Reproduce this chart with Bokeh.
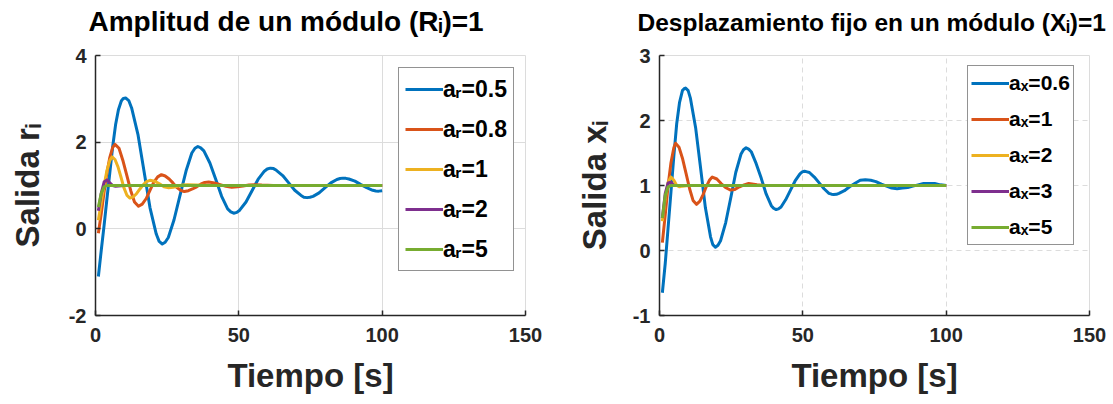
from bokeh.plotting import figure
from bokeh.layouts import row
from bokeh.models import Range1d, FixedTicker, Title
from bokeh.embed import file_html
from bokeh.resources import INLINE

# ---------------- data ----------------
x_ticks = [0, 50, 100, 150]
left_y_ticks = [-2, 0, 2, 4]
right_y_ticks = [-1, 0, 1, 2, 3]

left_labels = ["aᵣ=0.5", "aᵣ=0.8", "aᵣ=1", "aᵣ=2", "aᵣ=5"]
right_labels = ["aₓ=0.6", "aₓ=1", "aₓ=2", "aₓ=3", "aₓ=5"]

# Left panel: a_r = 0.5
t_r05 = [1, 2, 3, 4, 5, 6, 7, 8, 9, 9.7, 10.5, 11.6, 12.6, 14.8, 16.9, 19.0, 21.2, 22.2, 23.3, 24.3, 25.4,
         27.4, 29.5, 31.6, 33.6, 34.7, 35.7, 36.7, 37.8, 39.9, 42.0, 44.0, 46.1, 47.2, 48.2, 49.3, 50.3,
         52.5, 54.6, 56.7, 58.9, 59.9, 61.0, 62.1, 63.1, 65.3, 67.4, 69.5, 71.7, 72.7, 73.8, 74.8, 75.9,
         78.0, 80.1, 82.1, 84.2, 85.3, 86.3, 87.3, 88.4, 90.5, 92.6, 94.6, 96.7, 97.8, 98.8, 100]
y_r05 = [-1.1, -0.5, 0.08, 0.7, 1.3, 1.9, 2.4, 2.75, 2.95, 3.01, 3.02, 2.96, 2.79, 2.18, 1.34, 0.49, -0.12,
         -0.29, -0.35, -0.31, -0.2, 0.21, 0.78, 1.34, 1.75, 1.86, 1.9, 1.87, 1.8, 1.52, 1.13, 0.75, 0.46,
         0.39, 0.36, 0.38, 0.43, 0.62, 0.88, 1.14, 1.33, 1.38, 1.4, 1.39, 1.35, 1.23, 1.06, 0.89, 0.77,
         0.73, 0.72, 0.73, 0.75, 0.83, 0.95, 1.06, 1.14, 1.16, 1.17, 1.165, 1.15, 1.1, 1.02, 0.95, 0.89,
         0.875, 0.87, 0.88]
# a_r = 0.8
t_r08 = [1, 2, 3, 4, 5, 6, 6.8, 8.2, 9.5, 10.9, 12.3, 13.6, 15, 16.3, 17.7, 19, 20.3, 21.7, 23, 24.3, 25.7,
         27, 28.3, 29.7, 31, 32.4, 33.8, 35.3, 36.7, 38.1, 39.5, 41.5, 43.5, 45.5, 47.5, 49.5, 51.5, 53.5,
         55.5, 58, 62, 70, 80, 90, 100]
y_r08 = [-0.1, 0.35, 0.85, 1.3, 1.65, 1.88, 1.95, 1.86, 1.59, 1.24, 0.88, 0.62, 0.52, 0.57, 0.7, 0.89, 1.07,
         1.2, 1.25, 1.22, 1.15, 1.06, 0.96, 0.89, 0.86, 0.88, 0.92, 0.97, 1.03, 1.07, 1.08, 1.06, 1.02, 0.98,
         0.96, 0.97, 0.99, 1.01, 1.02, 1.01, 1.0, 1.0, 1.0, 1.0, 1.0]
# a_r = 1
t_r1 = [1, 2, 3, 4, 5, 5.8, 6.8, 7.9, 8.9, 9.9, 11, 12, 13.2, 14.3, 15.5, 16.7, 17.8, 19, 20.6, 22.3, 23.9,
        25.5, 27.1, 28.8, 30.4, 32, 35, 40, 60, 80, 100]
y_r1 = [0.2, 0.6, 1.0, 1.35, 1.58, 1.66, 1.6, 1.42, 1.19, 0.95, 0.77, 0.71, 0.74, 0.81, 0.92, 1.02, 1.09,
        1.12, 1.1, 1.04, 0.97, 0.95, 0.96, 0.99, 1.01, 1.02, 1.01, 1.0, 1.0, 1.0, 1.0]
# a_r = 2
t_r2 = [1, 2, 3, 4, 5, 6, 7, 8, 10, 20, 50, 100]
y_r2 = [0.42, 0.82, 1.08, 1.13, 1.06, 1.0, 0.98, 0.99, 1.0, 1.0, 1.0, 1.0]
# a_r = 5
t_r5 = [1, 2, 3, 4, 10, 50, 100]
y_r5 = [0.5, 0.82, 0.97, 1.0, 1.0, 1.0, 1.0]

# Right panel: a_x = 0.6
t_x06 = [1, 2, 3, 4, 5, 6, 7, 8, 8.6, 9.1, 10.0, 10.8, 12.6, 14.3, 16, 17.8, 18.6, 19.5, 20.4, 21.3, 23.1,
         24.9, 26.6, 28.4, 29.3, 30.2, 31.1, 32, 33.7, 35.5, 37.2, 39, 39.8, 40.7, 41.5, 42.4, 44, 45.7,
         47.3, 49, 49.8, 50.6, 51.5, 52.3, 54, 55.7, 57.4, 59.1, 60.0, 60.8, 61.7, 62.6, 64.5, 66.3, 68.1,
         70, 70.9, 71.8, 73.7, 75.5, 77.4, 79.2, 81, 82.9, 84.7, 86.6, 88.4, 90.2, 92.1, 93.9, 96, 98, 100]
y_x06 = [-0.65, -0.2, 0.35, 0.9, 1.45, 1.95, 2.28, 2.46, 2.49, 2.5, 2.46, 2.34, 1.89, 1.28, 0.66, 0.21, 0.09,
         0.05, 0.08, 0.15, 0.43, 0.82, 1.2, 1.48, 1.55, 1.58, 1.56, 1.52, 1.34, 1.11, 0.87, 0.69, 0.65, 0.63,
         0.64, 0.67, 0.78, 0.93, 1.07, 1.18, 1.21, 1.22, 1.21, 1.2, 1.13, 1.04, 0.95, 0.88, 0.866, 0.86,
         0.864, 0.88, 0.92, 0.98, 1.03, 1.08, 1.086, 1.09, 1.08, 1.06, 1.02, 0.99, 0.96, 0.95, 0.96, 0.97,
         0.99, 1.01, 1.03, 1.03, 1.03, 1.01, 1.0]
# a_x = 1
t_x1 = [1, 2, 3, 4, 5, 5.6, 6.8, 8, 9.3, 10.5, 11.7, 12.9, 14.1, 15.2, 16.3, 17.4, 18.4, 20, 21.5, 23, 24.7,
        26.3, 27.9, 29.5, 31.1, 34, 37, 50, 75, 100]
y_x1 = [0.12, 0.55, 1.0, 1.35, 1.58, 1.65, 1.59, 1.42, 1.18, 0.95, 0.77, 0.71, 0.76, 0.86, 0.98, 1.08, 1.13,
        1.1, 1.03, 0.97, 0.93, 0.94, 0.98, 1.01, 1.03, 1.01, 1.0, 1.0, 1.0, 1.0]
# a_x = 2
t_x2 = [1, 2, 3, 4, 5, 6, 7, 8, 10, 20, 50, 100]
y_x2 = [0.45, 0.8, 1.05, 1.13, 1.08, 1.0, 0.98, 0.99, 1.0, 1.0, 1.0, 1.0]
# a_x = 3
t_x3 = [1, 2, 3, 4, 5, 7, 20, 100]
y_x3 = [0.5, 0.88, 1.04, 1.05, 1.0, 1.0, 1.0, 1.0]
# a_x = 5
t_x5 = [1, 2, 3, 4, 10, 50, 100]
y_x5 = [0.5, 0.85, 0.98, 1.0, 1.0, 1.0, 1.0]

COLORS = ["#0072BD", "#D95319", "#EDB120", "#7E2F8E", "#77AC30"]
FONT = "Liberation Sans"
DARK = "#262626"
GRID = "#dcdcdc"


def make_panel(width, y_range, y_ticks, title, title_size, title_offset, title_gap, ylabel, series,
               labels, grid_dash, border_left, border_right, ylabel_standoff, legend_loc, legend_spacing,
               legend_font):
    p = figure(width=width, height=404, x_range=Range1d(0, 150), y_range=Range1d(*y_range),
               output_backend="svg", toolbar_location=None, title=None,
               min_border_left=border_left, min_border_right=border_right,
               min_border_top=55, min_border_bottom=89)
    p.background_fill_color = "white"
    p.border_fill_color = "white"
    p.outline_line_color = GRID
    p.outline_line_width = 1

    # empty spacer between frame and title, then the title itself (further out)
    p.add_layout(Title(text=" ", text_font_size="1px", standoff=title_gap), "above")
    p.add_layout(Title(text=title, align="left", offset=title_offset, text_font=FONT,
                       text_font_size=title_size, text_font_style="bold", text_color="#000000",
                       standoff=2), "above")

    for ax in (p.xaxis[0], p.yaxis[0]):
        ax.axis_line_color = DARK
        ax.axis_line_width = 1.5
        ax.major_tick_line_color = DARK
        ax.major_tick_line_width = 1.5
        ax.major_tick_in = 5
        ax.major_tick_out = 0
        ax.minor_tick_line_color = None
        ax.major_label_text_font = FONT
        ax.major_label_text_font_size = "20px"
        ax.major_label_text_font_style = "bold"
        ax.major_label_text_color = DARK
        ax.axis_label_text_font = FONT
        ax.axis_label_text_font_size = "33px"
        ax.axis_label_text_font_style = "bold"
        ax.axis_label_text_color = DARK
    p.xaxis.ticker = FixedTicker(ticks=x_ticks)
    p.yaxis.ticker = FixedTicker(ticks=y_ticks)
    p.yaxis.major_label_overrides = {t: str(t) for t in y_ticks}
    p.xaxis.axis_label = "Tiempo [s]"
    p.yaxis.axis_label = ylabel
    p.xaxis.major_label_standoff = 12
    p.yaxis.major_label_standoff = 9
    p.xaxis.axis_label_standoff = 12
    p.yaxis.axis_label_standoff = ylabel_standoff

    p.xgrid.ticker = FixedTicker(ticks=x_ticks)
    p.ygrid.ticker = FixedTicker(ticks=y_ticks)
    for g in (p.xgrid[0], p.ygrid[0]):
        g.grid_line_color = GRID
        g.grid_line_width = 1
        if grid_dash:
            g.grid_line_dash = grid_dash

    for (t, y), col, lab in zip(series, COLORS, labels):
        p.line(t, y, line_color=col, line_width=3, line_join="round", legend_label=lab)

    lg = p.legend[0]
    lg.location = legend_loc
    lg.border_line_color = DARK
    lg.border_line_width = 1.5
    lg.background_fill_color = "white"
    lg.background_fill_alpha = 1
    lg.label_text_font = FONT
    lg.label_text_font_size = legend_font
    lg.label_text_font_style = "bold"
    lg.label_text_color = "#000000"
    lg.glyph_width = 38
    lg.glyph_height = legend_spacing[0]
    lg.label_height = legend_spacing[0]
    lg.spacing = legend_spacing[1]
    lg.padding = legend_spacing[2]
    lg.label_standoff = 0
    lg.margin = 0
    return p


p1 = make_panel(556, (-2, 4), left_y_ticks, "Amplitud de un módulo (Rᵢ)=1", "28px", -7, 15, "Salida rᵢ",
                [(t_r05, y_r05), (t_r08, y_r08), (t_r1, y_r1), (t_r2, y_r2), (t_r5, y_r5)],
                left_labels, None, 95, 31, 20, (303, 44), (30, 10, 6), "23px")
p2 = make_panel(557, (-1, 3), right_y_ticks, "Desplazamiento fijo en un módulo (Xᵢ)=1", "24.5px", -22, 16,
                "Salida xᵢ",
                [(t_x06, y_x06), (t_x1, y_x1), (t_x2, y_x2), (t_x3, y_x3), (t_x5, y_x5)],
                right_labels, "5 4", 103, 24, 17, (308, 70), (28, 8, 3), "21px")

p = row(p1, p2)
open("out.html", "w").write(file_html(p, INLINE))
